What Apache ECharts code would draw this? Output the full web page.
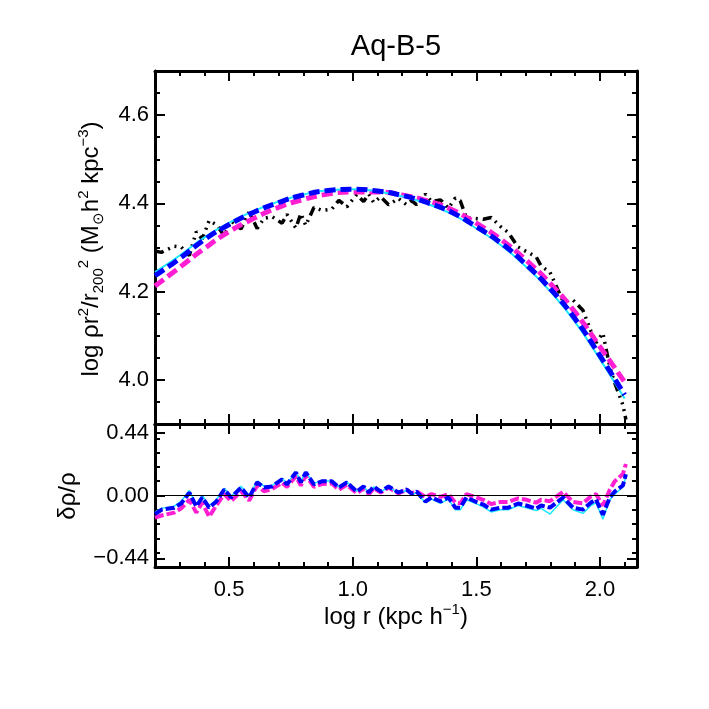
<!DOCTYPE html>
<html>
<head>
  <meta charset="utf-8">
  <script src="https://cdn.jsdelivr.net/npm/echarts@6/dist/echarts.min.js"></script>
  <style>
    html, body { margin: 0; padding: 0; background: #fff; }
    #chart { width: 709px; height: 709px; }
  </style>
</head>
<body>
<div id="chart"></div>
<script>
  // fit curves (log rho r^2 / r200^2), sampled every 0.1 in log r
  const fitX = [0.2, 0.3, 0.4, 0.5, 0.6, 0.7, 0.8, 0.9, 1.0, 1.1, 1.2, 1.3, 1.4, 1.5, 1.6, 1.7, 1.8, 1.9, 2.0, 2.1];
  const fitBlue = [4.236, 4.275, 4.318, 4.352, 4.380, 4.402, 4.419, 4.429, 4.432, 4.428, 4.418, 4.402, 4.380, 4.347, 4.310, 4.262, 4.206, 4.138, 4.055, 3.966];
  const fitCyan = [4.244, 4.282, 4.323, 4.356, 4.383, 4.404, 4.420, 4.430, 4.432, 4.427, 4.416, 4.399, 4.376, 4.343, 4.305, 4.257, 4.200, 4.131, 4.047, 3.958];
  const fitMagenta = [4.213, 4.255, 4.298, 4.336, 4.366, 4.391, 4.409, 4.421, 4.426, 4.426, 4.419, 4.406, 4.386, 4.355, 4.318, 4.272, 4.218, 4.153, 4.075, 3.995];

  // simulation profile bins
  const binX = [0.20, 0.226, 0.278, 0.306, 0.339, 0.367, 0.391, 0.419, 0.448, 0.480,
    0.508, 0.548, 0.581, 0.613, 0.641, 0.673, 0.714, 0.734, 0.770, 0.790,
    0.810, 0.843, 0.875, 0.915, 0.944, 0.976, 1.016, 1.044, 1.065, 1.085,
    1.113, 1.145, 1.185, 1.218, 1.238, 1.258, 1.294, 1.319, 1.355, 1.387,
    1.415, 1.435, 1.460, 1.496, 1.528, 1.560, 1.597, 1.629, 1.669, 1.702,
    1.742, 1.762, 1.798, 1.851, 1.891, 1.931, 1.964, 1.984, 2.012, 2.040,
    2.060, 2.093, 2.105];
  const simProfile = [4.292, 4.289, 4.303, 4.301, 4.282, 4.336, 4.319, 4.361, 4.352, 4.327,
    4.360, 4.342, 4.381, 4.343, 4.366, 4.370, 4.355, 4.375, 4.344, 4.377,
    4.350, 4.391, 4.384, 4.387, 4.407, 4.392, 4.420, 4.404, 4.421, 4.402,
    4.415, 4.397, 4.411, 4.397, 4.406, 4.397, 4.421, 4.404, 4.408, 4.389,
    4.412, 4.406, 4.367, 4.366, 4.364, 4.368, 4.348, 4.334, 4.301, 4.291,
    4.279, 4.258, 4.244, 4.178, 4.181, 4.158, 4.110, 4.084, 4.106, 4.029,
    3.993, 3.943, 3.910];

  // residuals delta rho / rho per fit
  const resBlue = [-0.13, -0.10, -0.085, -0.056, 0.02, -0.077, -0.014, -0.085, -0.042, 0.042,
    -0.014, 0.056, -0.014, 0.092, 0.056, 0.063, 0.113, 0.077, 0.162, 0.092,
    0.162, 0.077, 0.099, 0.099, 0.056, 0.092, 0.028, 0.063, 0.021, 0.063,
    0.028, 0.063, 0.021, 0.042, 0.014, 0.028, -0.042, -0.014, -0.042, -0.014,
    -0.085, -0.085, -0.014, -0.042, -0.063, -0.099, -0.085, -0.085, -0.056, -0.070,
    -0.092, -0.070, -0.085, -0.014, -0.085, -0.099, -0.049, -0.028, -0.134, -0.014,
    0.028, 0.070, 0.148];
  const resCyan = [-0.115, -0.09, -0.075, -0.04, 0.035, -0.065, 0.0, -0.07, -0.03, 0.05,
    -0.005, 0.065, 0.0, 0.1, 0.065, 0.07, 0.12, 0.085, 0.165, 0.1,
    0.165, 0.085, 0.105, 0.1, 0.06, 0.095, 0.03, 0.063, 0.02, 0.06,
    0.025, 0.06, 0.018, 0.035, 0.005, 0.02, -0.05, -0.025, -0.055, -0.025,
    -0.1, -0.1, -0.03, -0.055, -0.08, -0.115, -0.1, -0.1, -0.07, -0.085,
    -0.105, -0.09, -0.13, -0.03, -0.1, -0.125, -0.07, -0.05, -0.165, -0.03,
    0.01, 0.06, 0.135];
  const resMagenta = [-0.155, -0.14, -0.12, -0.09, -0.03, -0.12, -0.05, -0.148, -0.07, 0.01,
    -0.04, 0.03, -0.035, 0.07, 0.03, 0.045, 0.09, 0.06, 0.135, 0.07,
    0.14, 0.06, 0.08, 0.085, 0.04, 0.075, 0.015, 0.05, 0.01, 0.05,
    0.02, 0.055, 0.015, 0.04, 0.015, 0.03, -0.01, 0.01, -0.01, 0.01,
    -0.05, -0.055, 0.01, -0.01, -0.03, -0.06, -0.045, -0.045, -0.02, -0.03,
    -0.05, -0.03, -0.04, 0.025, -0.045, -0.055, -0.005, 0.01, -0.07, 0.04,
    0.1, 0.15, 0.22];

  // tick labels
  const xTicks = [0.5, 1.0, 1.5, 2.0];
  const topYTicks = [4.0, 4.2, 4.4, 4.6];
  const resYTicks = [-0.44, 0, 0.44];

  const FONT = "'Liberation Sans', Arial, sans-serif";
  const BLACK = '#000';
  const BLUE = '#0000ff';
  const CYAN = '#19e8ff';
  const MAGENTA = '#ff1ed2';

  const zip = (xs, ys) => xs.map((x, i) => [x, ys[i]]);

  // one pair of axes (minor + major) for a side of the box
  function boxAxes(gridIndex, position, min, max, minorStep, majorValues, labels) {
    const minor = {
      gridIndex, type: 'value', position, min, max, interval: minorStep,
      axisLine: {show: true, onZero: false, lineStyle: {color: BLACK, width: 3}},
      axisTick: {show: true, inside: true, length: 5, lineStyle: {color: BLACK, width: 2}},
      axisLabel: {show: false},
      splitLine: {show: false}
    };
    const major = {
      gridIndex, type: 'value', position, min, max,
      axisLine: {show: false, onZero: false},
      axisTick: {show: true, inside: true, length: 10, customValues: majorValues, lineStyle: {color: BLACK, width: 2}},
      axisLabel: labels ? Object.assign({show: true, customValues: majorValues, color: BLACK, fontFamily: FONT, fontSize: 22}, labels) : {show: false},
      splitLine: {show: false}
    };
    return [minor, major];
  }

  const X_MIN = 0.2, X_MAX = 2.15;
  const xAxes = [
    // top panel: 0-3
    ...boxAxes(0, 'bottom', X_MIN, X_MAX, 0.1, xTicks, null),
    ...boxAxes(0, 'top', X_MIN, X_MAX, 0.1, xTicks, null),
    // residual panel: 4-7
    ...boxAxes(1, 'bottom', X_MIN, X_MAX, 0.1, xTicks, {margin: 12, formatter: v => v.toFixed(1)}),
    ...boxAxes(1, 'top', X_MIN, X_MAX, 0.1, xTicks, null)
  ];
  const yAxes = [
    ...boxAxes(0, 'left', 3.9, 4.7, 0.05, topYTicks, {margin: 6, formatter: v => v.toFixed(1)}),
    ...boxAxes(0, 'right', 3.9, 4.7, 0.05, topYTicks, null),
    ...boxAxes(1, 'left', -0.5, 0.5, 0.1, resYTicks, {margin: 6, formatter: v => (v < 0 ? '\u2212' : '') + Math.abs(v).toFixed(2)}),
    ...boxAxes(1, 'right', -0.5, 0.5, 0.1, resYTicks, null)
  ];

  function line(name, xs, ys, color, width, type, xIdx, yIdx, smooth) {
    return {
      name, type: 'line', xAxisIndex: xIdx, yAxisIndex: yIdx,
      data: zip(xs, ys), showSymbol: false, symbol: 'none', smooth: !!smooth,
      lineStyle: {color, width, type, cap: 'butt'},
      silent: true, clip: true
    };
  }

  const residualMagenta = line('res magenta', binX, resMagenta, MAGENTA, 4, [9, 3], 4, 4);
  residualMagenta.markLine = {
    silent: true, symbol: 'none', label: {show: false},
    lineStyle: {color: BLACK, width: 1, type: 'solid'},
    data: [{yAxis: 0}]
  };

  const sup = {fontSize: 15, lineHeight: 14, verticalAlign: 'top', fontFamily: FONT, fill: BLACK};
  const sub = {fontSize: 15, lineHeight: 14, verticalAlign: 'bottom', fontFamily: FONT, fill: BLACK};
  const base = {fontSize: 24, lineHeight: 30, fontFamily: FONT, fill: BLACK};

  const option = {
    animation: false,
    backgroundColor: '#fff',
    grid: [
      {left: 155, top: 71, width: 482, height: 353},
      {left: 155, top: 424, width: 482, height: 143}
    ],
    xAxis: xAxes,
    yAxis: yAxes,
    series: [
      line('simulation', binX, simProfile, BLACK, 3.5, [9, 5, 2, 5, 2, 5, 2, 5], 0, 0),
      line('fit magenta', fitX, fitMagenta, MAGENTA, 5, [11, 5], 0, 0, true),
      line('fit cyan', fitX, fitCyan, CYAN, 2, 'solid', 0, 0, true),
      line('fit blue', fitX, fitBlue, BLUE, 5, [11, 5], 0, 0, true),
      residualMagenta,
      line('res cyan', binX, resCyan, CYAN, 1.5, 'solid', 4, 4),
      line('res blue', binX, resBlue, BLUE, 4, [9, 3], 4, 4)
    ],
    graphic: [
      {
        type: 'text', x: 396, y: 47,
        style: {text: 'Aq-B-5', fontFamily: FONT, fontSize: 29, fill: BLACK, align: 'center', verticalAlign: 'middle'}
      },
      {
        type: 'text', x: 396, y: 617,
        style: {
          text: '{b|log r (kpc h}{s|\u22121}{b|)}',
          align: 'center', verticalAlign: 'middle',
          rich: {b: base, s: sup}
        }
      },
      {
        type: 'text', x: 91, y: 249, rotation: Math.PI / 2,
        style: {
          text: '{b|log \u03c1r}{s|2}{b|/r}{d|200}{s|2}{b| (M}{d|\u2299}{b|h}{s|2}{b| kpc}{s|\u22123}{b|)}',
          align: 'center', verticalAlign: 'middle',
          rich: {b: base, s: sup, d: sub}
        }
      },
      {
        type: 'text', x: 68, y: 496, rotation: Math.PI / 2,
        style: {
          text: '{b|\u03b4\u03c1/\u03c1}',
          align: 'center', verticalAlign: 'middle',
          rich: {b: base}
        }
      }
    ]
  };

  const chartDom = document.getElementById('chart');
  const myChart = echarts.init(chartDom, null, {renderer: 'canvas'});
  myChart.setOption(option);
</script>
</body>
</html>
